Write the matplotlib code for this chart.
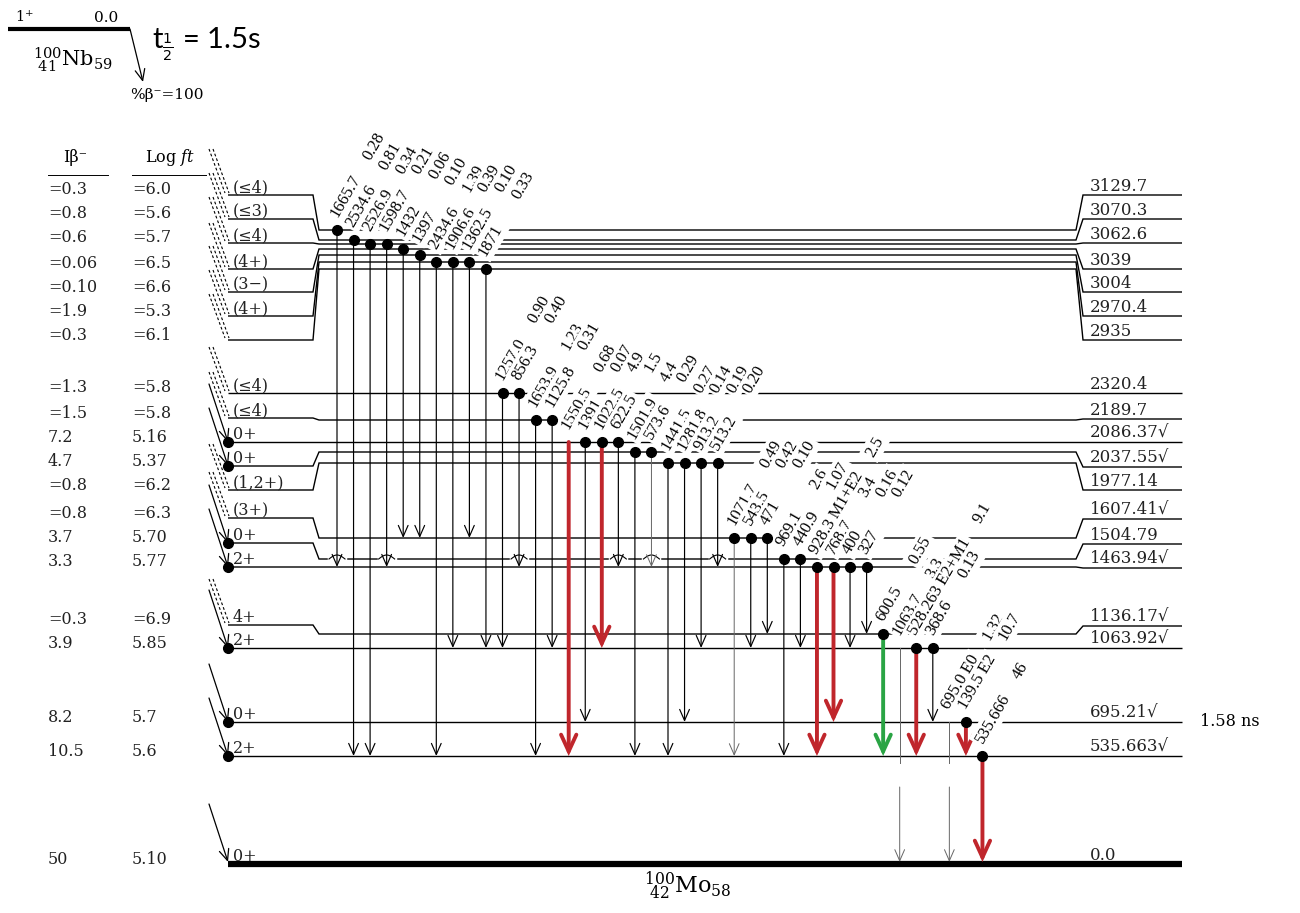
import matplotlib
matplotlib.use("Agg")
import matplotlib.pyplot as plt
from matplotlib.patches import FancyArrowPatch
from matplotlib.font_manager import FontProperties
import numpy as np

plt.rcParams['font.family'] = ['DejaVu Serif', 'DejaVu Sans']

# ------------------------------------------------------------------ data
level_energy = ["3129.7", "3070.3", "3062.6", "3039", "3004", "2970.4", "2935",
                "2320.4", "2189.7", "2086.37", "2037.55", "1977.14", "1607.41",
                "1504.79", "1463.94", "1136.17", "1063.92", "695.21", "535.663", "0.0"]
level_spin = ["(≤4)", "(≤3)", "(≤4)", "(4+)", "(3−)", "(4+)", "", "(≤4)", "(≤4)",
              "0+", "0+", "(1,2+)", "(3+)", "0+", "2+", "4+", "2+", "0+", "2+", "0+"]
beta_intensity = ["=0.3", "=0.8", "=0.6", "=0.06", "=0.10", "=1.9", "=0.3", "=1.3", "=1.5",
                  "7.2", "4.7", "=0.8", "=0.8", "3.7", "3.3", "=0.3", "3.9", "8.2", "10.5", "50"]
beta_logft = ["=6.0", "=5.6", "=5.7", "=6.5", "=6.6", "=5.3", "=6.1", "=5.8", "=5.8",
              "5.16", "5.37", "=6.2", "=6.3", "5.70", "5.77", "=6.9", "5.85", "5.7", "5.6", "5.10"]
level_checked = [False] * 9 + [True, True, False, True, False, True, True, True, True, True, False]

gamma_energy = ["1665.7", "2534.6", "2526.9", "1598.7", "1432", "1397", "2434.6", "1906.6",
                "1362.5", "1871", "1257.0", "856.3", "1653.9", "1125.8", "1550.5", "1391",
                "1022.5", "622.5", "1501.9", "573.6", "1441.5", "1281.8", "913.2", "513.2",
                "1071.7", "543.5", "471", "969.1", "440.9", "928.3", "768.7", "400", "327",
                "600.5", "1063.7", "528.263", "368.6", "695.0", "139.5", "535.666"]
gamma_mult = [""] * 29 + ["M1+E2"] + [""] * 5 + ["E2+M1", "", "E0", "E2", ""]
gamma_intensity = ["0.28", "0.81", "0.34", "0.21", "0.06", "0.10", "1.39", "0.39", "0.10",
                   "0.33", "0.90", "0.40", "1.23", "0.31", "0.68", "0.07", "4.9", "1.5",
                   "4.4", "0.29", "0.27", "0.14", "0.19", "0.20", "0.49", "0.42", "0.10",
                   "2.6", "1.07", "2.5", "3.4", "0.16", "0.12", "0.55", "3.3", "9.1",
                   "0.13", "1.32", "10.7", "46"]
gamma_from = ["3129.7", "3070.3", "3062.6", "3062.6", "3039", "3004", "2970.4", "2970.4",
              "2970.4", "2935", "2320.4", "2320.4", "2189.7", "2189.7", "2086.37", "2086.37",
              "2086.37", "2086.37", "2037.55", "2037.55", "1977.14", "1977.14", "1977.14",
              "1977.14", "1607.41", "1607.41", "1607.41", "1504.79", "1504.79", "1463.94",
              "1463.94", "1463.94", "1463.94", "1136.17", "1063.92", "1063.92", "1063.92",
              "695.21", "695.21", "535.663"]
gamma_to = ["1463.94", "535.663", "535.663", "1463.94", "1607.41", "1607.41", "535.663",
            "1063.92", "1607.41", "1063.92", "1063.92", "1463.94", "535.663", "1063.92",
            "535.663", "695.21", "1063.92", "1463.94", "535.663", "1463.94", "535.663",
            "695.21", "1063.92", "1463.94", "535.663", "1063.92", "1136.17", "535.663",
            "1063.92", "535.663", "695.21", "1063.92", "1136.17", "535.663", "0.0",
            "535.663", "695.21", "0.0", "535.663", "0.0"]
# k = black, r = red, g = green, w = weak (grey)
gamma_kind = ["k"] * 14 + ["r", "k", "r", "k", "k", "w", "k", "k", "k", "k",
                           "w", "k", "k", "k", "k", "r", "r", "k", "k", "g",
                           "w", "r", "k", "w", "r", "r"]
gamma_dot = [True] * 14 + [False] + [True] * 19 + [False, True, True, False, True, True]

parent_spin = "1$^{+}$"
parent_energy = "0.0"
parent_name = r"${}^{100}_{\ 41}\mathrm{Nb}_{59}$"
daughter_name = r"${}^{100}_{\ 42}\mathrm{Mo}_{58}$"
half_life = r"t$_{\frac{1}{2}}$ = 1.5s"
branch = "%β⁻=100"
lifetime_note = "1.58 ns"
lifetime_level = "695.21"

# ------------------------------------------------------------------ layout
W, H = 1300, 913
fig = plt.figure(figsize=(13, 9.13), dpi=100)
ax = fig.add_axes([0, 0, 1, 1])
ax.set_xlim(0, W)
ax.set_ylim(H, 0)
ax.axis('off')

Y_LEFT = [195, 219, 243, 269, 292, 316, 340, 393, 418, 442, 466, 490, 518, 543, 567,
          625, 648, 722, 756, 864]
Y_MID = [230, 240, 244, 249, 255, 262, 269, 393, 420, 442, 452, 463, 538, 559, 567,
         634, 648, 722, 756, 864]
Y_RIGHT = [195, 219, 243, 269, 292, 316, 340, 393, 419, 442, 467, 490, 519, 544, 568,
           626, 648, 722, 756, 864]
X_L0, X_L1, X_L2 = 228, 313, 319
X_R0, X_R1, X_R2 = 1076, 1083, 1182
X_G0, DX_G = 337, 16.55
RED = "#c0262c"
GREEN = "#2aa444"
idx = {e: i for i, e in enumerate(level_energy)}
ground = idx["0.0"]


def arrow(x0, y0, x1, y1, color="k", lw=0.8, hl=0.8, hw=0.35, z=2):
    a = FancyArrowPatch((x0, y0), (x1, y1),
                        arrowstyle=f"->,head_length={hl},head_width={hw}",
                        color=color, lw=lw, shrinkA=0, shrinkB=0,
                        mutation_scale=10, zorder=z, joinstyle='miter')
    ax.add_patch(a)


# ---- parent
ax.plot([8, 130], [29, 29], color='k', lw=3, solid_capstyle='butt')
ax.text(15, 22, parent_spin, fontsize=10.5, math_fontfamily='dejavuserif', va='baseline')
ax.text(118, 22, parent_energy, fontsize=11, ha='right', va='baseline')
ax.text(33, 60, parent_name, fontsize=15, math_fontfamily='dejavuserif', va='center')
arrow(130, 29, 143, 82, lw=0.9)
ax.text(130, 95, branch, fontsize=11, va='center')
ax.text(152, 44, half_life, fontsize=21, family=['Lato', 'DejaVu Sans'],
        math_fontfamily='dejavusans', va='center')

# ---- column headers
ax.text(75, 158, "Iβ⁻", fontsize=11.5, ha='center', va='center')
ax.text(170, 158, r"Log $\mathit{ft}$", fontsize=11.5, ha='center', va='center',
        math_fontfamily='dejavuserif')
ax.plot([48, 108], [175, 175], color='k', lw=0.7)
ax.plot([132, 206], [175, 175], color='k', lw=0.7)

# ---- levels
for i, e in enumerate(level_energy):
    yl, ym, yr = Y_LEFT[i], Y_MID[i], Y_RIGHT[i]
    lw = 4.5 if i == ground else 1.0
    ax.plot([X_L0, X_L1, X_L2, X_R0, X_R1, X_R2], [yl, yl, ym, ym, yr, yr],
            color='k', lw=lw, zorder=1, solid_joinstyle='miter', solid_capstyle='butt')
    lab = e + ("√" if level_checked[i] else "")
    ax.text(1090, yr - 4, lab, fontsize=12, va='baseline', color='#222')
    if level_spin[i]:
        ax.text(233, yl - 3, level_spin[i], fontsize=11.5, va='baseline', color='#222')
    ax.text(48, yl - 5, beta_intensity[i], fontsize=11.5, va='center', color='#222')
    ax.text(132, yl - 5, beta_logft[i], fontsize=11.5, va='center', color='#222')
    # beta feeding
    if beta_intensity[i].startswith("="):
        for dx in (0, 4):
            ax.plot([209 + dx, 225 + dx], [yl - 46, yl - 2], color='k', lw=0.8,
                    ls=(0, (2.5, 2)), zorder=2)
    else:
        tip = yl - 2 if i == ground else yl
        arrow(209, tip - 58, 228, tip, lw=0.9)
        if i != ground:
            ax.plot([228], [yl], 'o', color='k', ms=7, zorder=4)

ax.text(1200, Y_RIGHT[idx[lifetime_level]], lifetime_note, fontsize=11.5, va='center')
ax.text(688, 886, daughter_name, fontsize=16, ha='center', va='center',
        math_fontfamily='dejavuserif')

# ---- gamma transitions
fig.canvas.draw()
renderer = fig.canvas.get_renderer()
fp = FontProperties(family='Liberation Serif', size=12)
ang = np.deg2rad(60)
bumps = []
for i, eg in enumerate(gamma_energy):
    x = X_G0 + i * DX_G
    fi, ti = idx[gamma_from[i]], idx[gamma_to[i]]
    y0 = Y_MID[fi]
    y1 = Y_MID[ti] - (2 if ti == ground else 0)
    kind = gamma_kind[i]
    if kind in ("r", "g"):
        col = RED if kind == "r" else GREEN
        arrow(x, y0, x, y1, color=col, lw=2.8, hl=1.2, hw=0.55, z=3)
    else:
        col = 'k' if kind == 'k' else '#666'
        lw = 0.85 if kind == 'k' else 0.7
        if ti == ground:
            ax.plot([x, x], [y0, 763], color=col, lw=lw, zorder=2)
            arrow(x, 787, x, y1, color=col, lw=lw)
        else:
            arrow(x, y0, x, y1, color=col, lw=lw)
    if gamma_dot[i]:
        ax.plot([x], [y0], 'o', color='k', ms=7, zorder=4)
    # bumps where line crosses 1504.79 just above its end at 1463.94
    if gamma_to[i] == "1463.94" and fi < idx["1504.79"]:
        bumps.append(x)
    # labels
    s = eg + (" " + gamma_mult[i] if gamma_mult[i] else "")
    w, h, d = renderer.get_text_width_height_descent(s, fp, ismath=False)
    ax0, ay0 = x, y0 - 12
    ax.text(ax0, ay0, s, fontproperties=fp, rotation=60, rotation_mode='anchor',
            ha='left', va='baseline', zorder=3, color='k',
            bbox=dict(boxstyle='square,pad=0.15', fc='white', ec='none'))
    L = max(66, w + 20)
    ax.text(ax0 + L * np.cos(ang), ay0 - L * np.sin(ang), gamma_intensity[i],
            fontproperties=fp, rotation=60, rotation_mode='anchor',
            ha='left', va='baseline', zorder=3, color='k',
            bbox=dict(boxstyle='square,pad=0.15', fc='white', ec='none'))

yb = Y_MID[idx["1504.79"]]
t = np.linspace(0, 1, 20)
for xb in bumps:
    ax.plot([xb - 8, xb + 8], [yb, yb], color='white', lw=2.5, zorder=1.5)
    ax.plot(xb - 8 + 16 * t, yb - 4 * np.sin(np.pi * t), color='k', lw=0.8, zorder=1.6)

fig.savefig("out.png", dpi=100)
